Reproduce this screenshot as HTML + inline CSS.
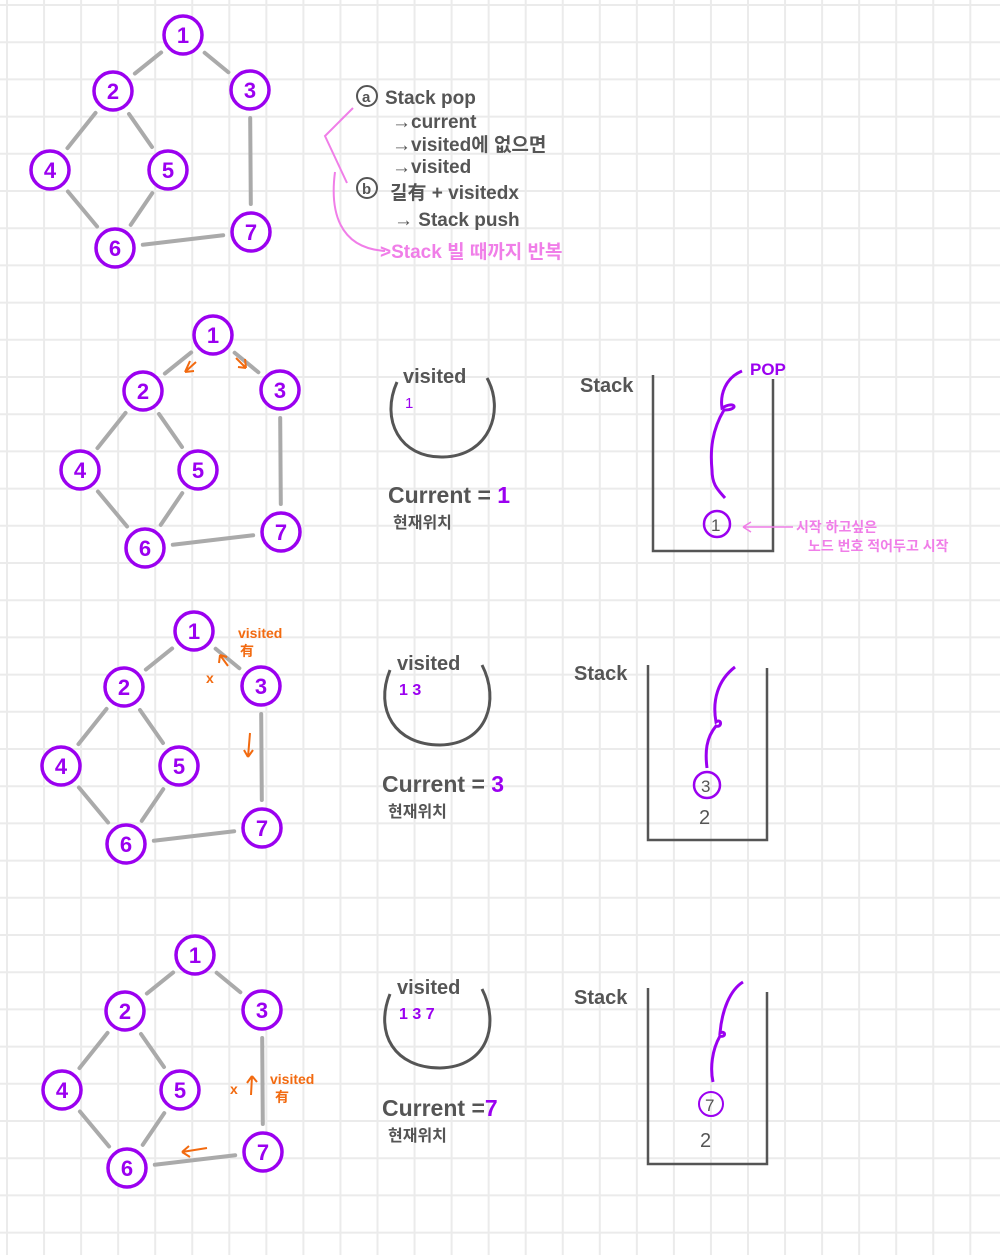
<!DOCTYPE html>
<html><head><meta charset="utf-8">
<style>
html,body{margin:0;padding:0;background:#fff;}
svg{display:block;}
text{font-family:"Liberation Sans","Noto Sans CJK KR",sans-serif;}
</style></head>
<body>
<svg id="s" width="1000" height="1255" viewBox="0 0 1000 1255" xmlns="http://www.w3.org/2000/svg">
<g id="grid"></g>
<g id="graphs"></g>

<!-- Section 1 notes -->
<g fill="#555" font-size="19" font-weight="bold">
  <circle cx="367" cy="96" r="10" fill="none" stroke="#555" stroke-width="2"/>
  <text x="362" y="102" font-size="15">a</text>
  <text x="385" y="104">Stack pop</text>
  <text x="392" y="128">→current</text>
  <text x="392" y="151">→visited에 없으면</text>
  <text x="392" y="173">→visited</text>
  <circle cx="367" cy="188" r="10" fill="none" stroke="#555" stroke-width="2"/>
  <text x="362" y="194" font-size="15">b</text>
  <text x="390" y="199">길有 + visitedx</text>
  <text x="394" y="226">→ Stack push</text>
  <path d="M353,108 L325,136 L347,183" fill="none" stroke="#f07ee8" stroke-width="2"/>
  <path d="M335,172 C330,210 338,248 385,251" fill="none" stroke="#f07ee8" stroke-width="2"/>
  <text x="380" y="258" fill="#f07ee8">&gt;Stack 빌 때까지 반복</text>
</g>

<!-- Section 2 -->
<g>
  <path d="M397,382 C380,420 400,458 443,457 C490,456 505,410 487,378" fill="none" stroke="#555" stroke-width="3"/>
  <text x="403" y="383" font-size="20" font-weight="bold" fill="#555">visited</text>
  <text x="405" y="408" font-size="15" fill="#9b00f0">1</text>
  <text x="388" y="503" font-size="23" font-weight="bold" fill="#555">Current = <tspan fill="#9b00f0">1</tspan></text>
  <text x="393" y="528" font-size="16" font-weight="bold" fill="#555">현재위치</text>
</g>
<g>
  <text x="580" y="392" font-size="20" font-weight="bold" fill="#555">Stack</text>
  <path d="M653,375 L653,551 L773,551 L773,379" fill="none" stroke="#555" stroke-width="2.5"/>
  <path d="M742,371 C725,378 720,395 722,408 C735,400 740,410 724,410 C712,430 710,450 712,470 C712,485 718,490 725,498" fill="none" stroke="#9b00f0" stroke-width="3"/>
  <text x="750" y="375" font-size="17" font-weight="bold" fill="#9b00f0">POP</text>
  <circle cx="717" cy="524" r="13" fill="none" stroke="#9b00f0" stroke-width="2.5"/>
  <text x="711" y="531" font-size="17" fill="#555">1</text>
  <path d="M743,527 L793,527 M743,527 L751,522 M743,527 L751,532" stroke="#f07ee8" stroke-width="1.5" fill="none"/>
  <text x="796" y="532" font-size="14" font-weight="bold" fill="#f07ee8">시작 하고싶은</text>
  <text x="808" y="551" font-size="14" font-weight="bold" fill="#f07ee8">노드 번호 적어두고 시작</text>
  <path d="M185,372 L196,362 M185,372 L190,361 M185,372 L194,371" stroke="#f26a10" stroke-width="2" fill="none"/>
  <path d="M236,358 L246,368 M246,368 L245,359 M246,368 L238,367" stroke="#f26a10" stroke-width="2" fill="none"/>
</g>

<!-- Section 3 -->
<g>
  <path d="M390,670 C374,710 395,745 440,745 C488,744 500,700 482,665" fill="none" stroke="#555" stroke-width="3"/>
  <text x="397" y="670" font-size="20" font-weight="bold" fill="#555">visited</text>
  <text x="399" y="695" font-size="16" font-weight="bold" fill="#9b00f0">1 3</text>
  <text x="382" y="792" font-size="23" font-weight="bold" fill="#555">Current = <tspan fill="#9b00f0">3</tspan></text>
  <text x="388" y="817" font-size="16" font-weight="bold" fill="#555">현재위치</text>
  <text x="238" y="638" font-size="14" font-weight="bold" fill="#f26a10">visited</text>
  <text x="240" y="656" font-size="14" font-weight="bold" fill="#f26a10">有</text>
  <path d="M220,655 L228,666 M220,655 L219,663 M220,655 L227,657" stroke="#f26a10" stroke-width="2" fill="none"/>
  <text x="206" y="683" font-size="14" font-weight="bold" fill="#f26a10">x</text>
  <path d="M250,733 L248,757 M248,757 L244,750 M248,757 L253,750" stroke="#f26a10" stroke-width="2" fill="none"/>
</g>
<g>
  <text x="574" y="680" font-size="20" font-weight="bold" fill="#555">Stack</text>
  <path d="M648,665 L648,840 L767,840 L767,668" fill="none" stroke="#555" stroke-width="2.5"/>
  <path d="M735,667 C718,680 712,700 716,722 C722,718 722,728 716,726 C706,738 705,752 707,768" fill="none" stroke="#9b00f0" stroke-width="3"/>
  <circle cx="707" cy="785" r="13" fill="none" stroke="#9b00f0" stroke-width="2.5"/>
  <text x="701" y="792" font-size="17" fill="#555">3</text>
  <text x="699" y="824" font-size="20" fill="#555">2</text>
</g>

<!-- Section 4 -->
<g>
  <path d="M390,994 C374,1034 395,1068 440,1068 C488,1067 500,1024 482,989" fill="none" stroke="#555" stroke-width="3"/>
  <text x="397" y="994" font-size="20" font-weight="bold" fill="#555">visited</text>
  <text x="399" y="1019" font-size="16" font-weight="bold" fill="#9b00f0">1 3 7</text>
  <text x="382" y="1116" font-size="23" font-weight="bold" fill="#555">Current =<tspan fill="#9b00f0">7</tspan></text>
  <text x="388" y="1141" font-size="16" font-weight="bold" fill="#555">현재위치</text>
  <text x="270" y="1084" font-size="14" font-weight="bold" fill="#f26a10">visited</text>
  <text x="275" y="1102" font-size="14" font-weight="bold" fill="#f26a10">有</text>
  <text x="230" y="1094" font-size="14" font-weight="bold" fill="#f26a10">x</text>
  <path d="M251,1095 L252,1076 M252,1076 L247,1083 M252,1076 L257,1082" stroke="#f26a10" stroke-width="2" fill="none"/>
  <path d="M182,1152 L207,1148 M182,1152 L189,1146 M182,1152 L190,1157" stroke="#f26a10" stroke-width="2" fill="none"/>
</g>
<g>
  <text x="574" y="1004" font-size="20" font-weight="bold" fill="#555">Stack</text>
  <path d="M648,988 L648,1164 L767,1164 L767,992" fill="none" stroke="#555" stroke-width="2.5"/>
  <path d="M743,982 C730,990 722,1010 720,1033 C726,1030 726,1038 720,1036 C712,1050 710,1068 713,1082" fill="none" stroke="#9b00f0" stroke-width="3"/>
  <circle cx="711" cy="1104" r="12" fill="none" stroke="#9b00f0" stroke-width="2"/>
  <text x="705" y="1111" font-size="17" fill="#555">7</text>
  <text x="700" y="1147" font-size="20" fill="#555">2</text>
</g>

<script>
const nodeLabels = ["1","2","3","4","5","6","7"];
const nodeX = [183,113,250,50,168,115,251];
const nodeY = [35,91,90,170,170,248,232];
const edgeFrom = [0,0,1,1,3,4,2,5];
const edgeTo   = [1,2,3,4,5,5,6,6];
const graphOffsetX = [0,30,11,12];
const graphOffsetY = [0,300,596,920];
const NS="http://www.w3.org/2000/svg";
const grid=document.getElementById('grid');
for(let x=7;x<1000;x+=37.05){
  const l=document.createElementNS(NS,'line');
  l.setAttribute('x1',x);l.setAttribute('x2',x);l.setAttribute('y1',0);l.setAttribute('y2',1255);
  l.setAttribute('stroke','#ebebeb');l.setAttribute('stroke-width','2');
  
  
  grid.appendChild(l);
}
for(let y=5;y<1255;y+=37.2){
  const l=document.createElementNS(NS,'line');
  l.setAttribute('y1',y);l.setAttribute('y2',y);l.setAttribute('x1',0);l.setAttribute('x2',1000);
  l.setAttribute('stroke','#ebebeb');l.setAttribute('stroke-width','2');
  
  
  grid.appendChild(l);
}
const gs=document.getElementById('graphs');
const R=19;
graphOffsetX.forEach((ox,gi)=>{
  const oy=graphOffsetY[gi];
  const g=document.createElementNS(NS,'g');
  
  
  edgeFrom.forEach((a,i)=>{
    const b=edgeTo[i];
    const x1=nodeX[a]+ox,y1=nodeY[a]+oy,x2=nodeX[b]+ox,y2=nodeY[b]+oy;
    const d=Math.hypot(x2-x1,y2-y1),ux=(x2-x1)/d,uy=(y2-y1)/d,gap=R+9;
    const l=document.createElementNS(NS,'line');
    l.setAttribute('x1',x1+ux*gap);l.setAttribute('y1',y1+uy*gap);
    l.setAttribute('x2',x2-ux*gap);l.setAttribute('y2',y2-uy*gap);
    l.setAttribute('stroke','#aaaaaa');l.setAttribute('stroke-width','4');l.setAttribute('stroke-linecap','round');
    
    
    g.appendChild(l);
  });
  nodeLabels.forEach((lab,i)=>{
    const c=document.createElementNS(NS,'circle');
    c.setAttribute('cx',nodeX[i]+ox);c.setAttribute('cy',nodeY[i]+oy);c.setAttribute('r',R);
    c.setAttribute('fill','#fff');c.setAttribute('stroke','#9b00f0');c.setAttribute('stroke-width','3.5');
    
    
    g.appendChild(c);
    const t=document.createElementNS(NS,'text');
    t.setAttribute('x',nodeX[i]+ox);t.setAttribute('y',nodeY[i]+oy+8);
    t.setAttribute('text-anchor','middle');t.setAttribute('font-size','22');t.setAttribute('font-weight','bold');
    t.setAttribute('fill','#9b00f0');t.textContent=lab;
    
    
    g.appendChild(t);
  });
  gs.appendChild(g);
});
</script>
</svg>
</body></html>
